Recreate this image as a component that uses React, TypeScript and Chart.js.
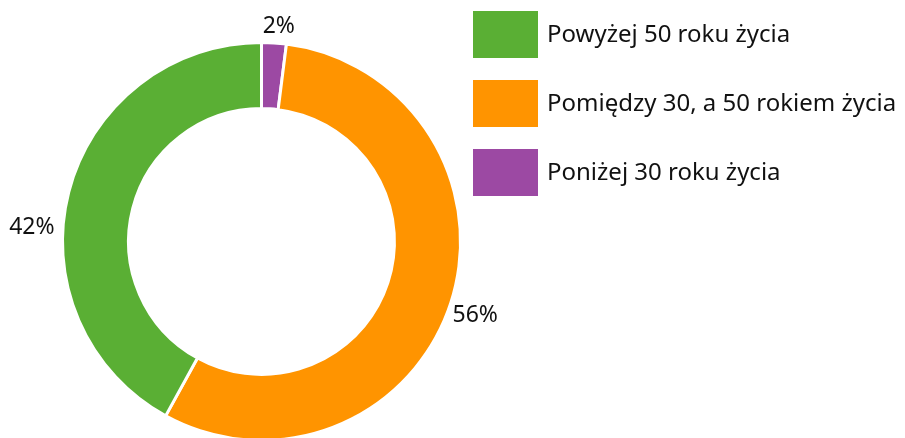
import React, { useEffect, useRef } from "react";
import { Chart, registerables } from "chart.js";

Chart.register(...registerables);

// Drawn clockwise from 12 o'clock
const categories = ["Poniżej 30 roku życia", "Pomiędzy 30, a 50 rokiem życia", "Powyżej 50 roku życia"];
const shares = [2, 56, 42];
const shareLabels = ["2%", "56%", "42%"];
const colors = ["#9C49A3", "#FF9400", "#5AAF34"];

const FONT = "'Noto Sans', sans-serif";

const labelPlugin = {
  id: "outsideLabels",
  afterDatasetsDraw(chart: any, _args: any, opts: any) {
    const ctx = chart.ctx;
    const meta = chart.getDatasetMeta(0);
    ctx.save();
    ctx.font = `${opts.size}px ${FONT}`;
    ctx.fillStyle = opts.color;
    ctx.textAlign = "center";
    ctx.textBaseline = "middle";
    meta.data.forEach((arc: any, i: number) => {
      const p = arc.getProps(["x", "y", "startAngle", "endAngle", "outerRadius"], true);
      const mid = (p.startAngle + p.endAngle) / 2 + ((opts.angleShift[i] || 0) * Math.PI) / 180;
      const r = p.outerRadius + opts.radial[i];
      ctx.fillText(shareLabels[i], p.x + Math.cos(mid) * r, p.y + Math.sin(mid) * r);
    });
    ctx.restore();
  },
};

const legendPlugin = {
  id: "boxLegend",
  afterDraw(chart: any, _args: any, opts: any) {
    const ctx = chart.ctx;
    const labels = chart.data.labels as string[];
    const bg = chart.data.datasets[0].backgroundColor as string[];
    const order = labels.map((_, i) => i).reverse();
    ctx.save();
    ctx.font = `${opts.size}px ${FONT}`;
    ctx.textBaseline = "middle";
    ctx.textAlign = "left";
    order.forEach((idx, row) => {
      const y = opts.top + row * opts.step;
      ctx.fillStyle = bg[idx];
      ctx.fillRect(opts.left, y, opts.boxW, opts.boxH);
      ctx.fillStyle = opts.color;
      ctx.fillText(labels[idx], opts.textX, y + opts.boxH / 2 + 1);
    });
    ctx.restore();
  },
};

export default function App() {
  const ref = useRef<HTMLCanvasElement | null>(null);
  useEffect(() => {
    if (!ref.current) return;
    const chart = new Chart(ref.current, {
      type: "doughnut",
      data: {
        labels: categories,
        datasets: [
          {
            data: shares,
            backgroundColor: colors,
            borderColor: "#ffffff",
            borderWidth: 3,
            hoverOffset: 0,
          },
        ],
      },
      options: {
        animation: false,
        responsive: true,
        maintainAspectRatio: false,
        cutout: "66.8%",
        layout: { padding: { left: 61, right: 443, top: 41, bottom: 3 } },
        plugins: {
          legend: { display: false },
          tooltip: { enabled: false },
          outsideLabels: { size: 23, color: "#111111", radial: [17, 27, 31], angleShift: [1, 1, -11] },
          boxLegend: { left: 473, top: 11, step: 69, boxW: 65, boxH: 47, textX: 547, size: 24, color: "#111111" },
        } as any,
      },
      plugins: [labelPlugin, legendPlugin],
    });
    return () => chart.destroy();
  }, []);
  return (
    <div style={{ position: "fixed", left: 0, top: 0, width: 905, height: 445, background: "#ffffff" }}>
      <canvas ref={ref} />
    </div>
  );
}
